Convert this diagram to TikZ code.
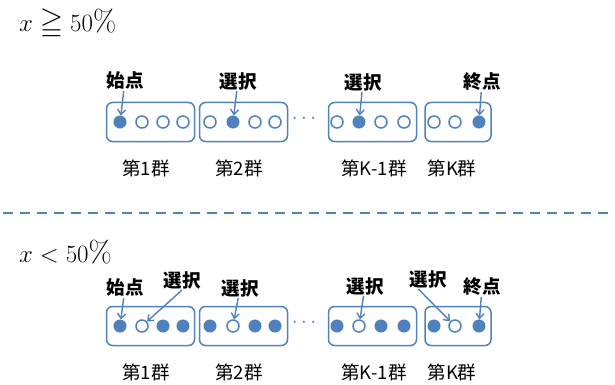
\documentclass[tikz,border=0pt]{standalone}
\usepackage{amssymb}
\usepackage{fontspec}
\newfontfamily\jp{Noto Sans CJK JP}
\usetikzlibrary{arrows.meta}
\definecolor{ob}{RGB}{79,129,189}
\tikzset{
  grp/.style={draw=ob, line width=1.5pt, rounded corners=6pt, minimum width=88pt, minimum height=39pt, inner sep=0pt},
  grpk/.style={grp, minimum width=66pt},
  fdot/.style={circle, draw=ob, fill=ob, line width=1pt, minimum size=12pt, inner sep=0pt},
  odot/.style={circle, draw=ob, fill=white, line width=1.5pt, minimum size=12pt, inner sep=0pt},
  lab/.style={font=\jp\bfseries\fontsize{18.5}{20}\selectfont, inner sep=1pt},
  glab/.style={font=\jp\fontsize{18.5}{20}\selectfont, inner sep=1pt},
  arr/.style={draw=ob, line width=1.4pt, -{Straight Barb[length=5pt,width=8pt]}},
  ell/.style={text=ob, font=\fontsize{20}{22}\selectfont},
  mathlab/.style={font=\fontsize{30}{34}\selectfont, anchor=west, inner sep=0pt}
}
\begin{document}
\begin{tikzpicture}[x=1pt,y=-1pt]
\useasboundingbox (0,0) rectangle (615,385);
% ---------- top ----------
\node[mathlab] (m1) at (19,24) {$x \geqq 50\%$};
\node[grp]  (A1) at (150.5,122) {};
\node[grp]  (A2) at (243.5,122) {};
\node[ell]  (Ae) at (304,119) {$\cdots$};
\node[grp]  (A3) at (372.5,122) {};
\node[grpk] (A4) at (458,122) {};
\node[fdot] (a11) at (120,122) {};
\node[odot] (a12) at (142,122) {};
\node[odot] (a13) at (163,122) {};
\node[odot] (a14) at (183,122) {};
\node[odot] (a21) at (210,122) {};
\node[fdot] (a22) at (233,122) {};
\node[odot] (a23) at (255,122) {};
\node[odot] (a24) at (275,122) {};
\node[odot] (a31) at (337,122) {};
\node[fdot] (a32) at (359,122) {};
\node[odot] (a33) at (381,122) {};
\node[odot] (a34) at (404,122) {};
\node[odot] (a41) at (434,122) {};
\node[odot] (a42) at (455,122) {};
\node[fdot] (a43) at (479,122) {};
\node[lab] (As) at (125,81) {始点};
\node[lab] (Ap) at (238,81) {選択};
\node[lab] (Aq) at (363,82) {選択};
\node[lab] (Ae2) at (482,82) {終点};
\draw[arr] (As) -- (a11);
\draw[arr] (Ap) -- (a22);
\draw[arr] (Aq) -- (a32);
\draw[arr] (Ae2) -- (a43);
\node[glab] (Ag1) at (146,168) {第1群};
\node[glab] (Ag2) at (239,168) {第2群};
\node[glab] (Ag3) at (374,168) {第K-1群};
\node[glab] (Ag4) at (452,168) {第K群};
% ---------- divider ----------
\coordinate (d1) at (3,213);
\coordinate (d2) at (615,213);
\draw[ob, line width=1.8pt, dash pattern=on 10pt off 7pt] (d1) -- (d2);
% ---------- bottom ----------
\node[mathlab] (m2) at (19,252) {$x < 50\%$};
\node[grp]  (B1) at (150.5,326) {};
\node[grp]  (B2) at (243.5,326) {};
\node[ell]  (Be) at (304,323) {$\cdots$};
\node[grp]  (B3) at (372.5,326) {};
\node[grpk] (B4) at (458,326) {};
\node[fdot] (b11) at (120,326) {};
\node[odot] (b12) at (142,326) {};
\node[fdot] (b13) at (163,326) {};
\node[fdot] (b14) at (183,326) {};
\node[fdot] (b21) at (210,326) {};
\node[odot] (b22) at (233,326) {};
\node[fdot] (b23) at (255,326) {};
\node[fdot] (b24) at (275,326) {};
\node[fdot] (b31) at (337,326) {};
\node[odot] (b32) at (359,326) {};
\node[fdot] (b33) at (381,326) {};
\node[fdot] (b34) at (404,326) {};
\node[fdot] (b41) at (434,326) {};
\node[odot] (b42) at (455,326) {};
\node[fdot] (b43) at (479,326) {};
\node[lab] (Bs) at (125,288) {始点};
\node[lab] (Bp1) at (182,280) {選択};
\node[lab] (Bp2) at (240,288) {選択};
\node[lab] (Bp3) at (365,286) {選択};
\node[lab] (Bp4) at (428,279) {選択};
\node[lab] (Be2) at (482,287) {終点};
\draw[arr] (Bs) -- (b11);
\draw[arr] (Bp1.south) -- (b12);
\draw[arr] (Bp2) -- (b22);
\draw[arr] (Bp3) -- (b32);
\draw[arr] (Bp4.south west) ++(10,0) -- (b42);
\draw[arr] (Be2) -- (b43);
\node[glab] (Bg1) at (146,372) {第1群};
\node[glab] (Bg2) at (239,372) {第2群};
\node[glab] (Bg3) at (374,372) {第K-1群};
\node[glab] (Bg4) at (452,372) {第K群};
\end{tikzpicture}
\end{document}
